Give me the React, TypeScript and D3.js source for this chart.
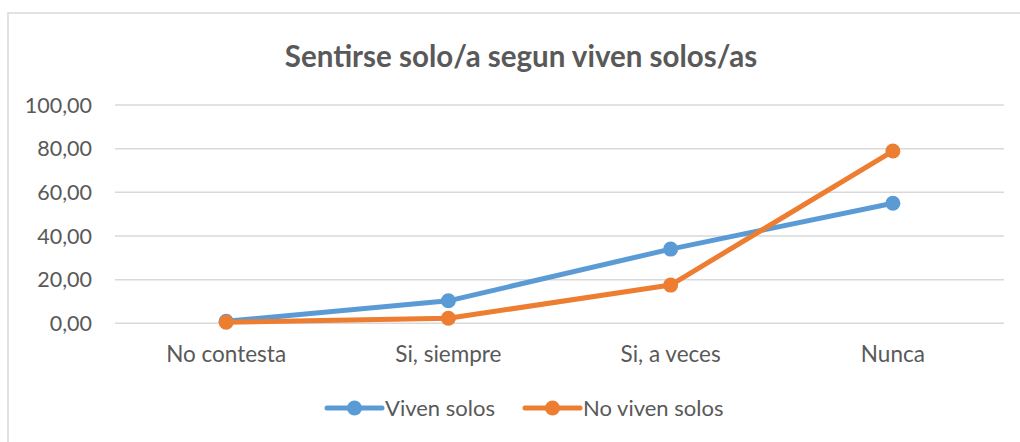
import React from "react";
import * as d3 from "d3";

const categories = ["No contesta", "Si, siempre", "Si, a veces", "Nunca"];
const vivenSolos = [0.9, 10.3, 34.0, 55.0];
const noVivenSolos = [0.5, 2.3, 17.5, 78.9];
const yTicks = [0, 20, 40, 60, 80, 100];
const seriesNames = ["Viven solos", "No viven solos"];
const colors = ["#5B9BD5", "#ED7D31"];

const W = 1020;
const H = 442;
const FONT = "Lato, 'Open Sans', sans-serif";

export default function App() {
  const x = d3.scaleBand<string>().domain(categories).range([115, 1004]);
  const y = d3.scaleLinear().domain([0, 100]).range([323.3, 105]);
  const fmt = (v: number) => v.toFixed(2).replace(".", ",");
  const line = d3
    .line<number>()
    .x((_, i) => (x(categories[i]) as number) + x.bandwidth() / 2)
    .y((d) => y(d));
  const series = [vivenSolos, noVivenSolos];

  const legendItems = [
    { name: seriesNames[0], color: colors[0], x0: 327, tx: 385 },
    { name: seriesNames[1], color: colors[1], x0: 525, tx: 583 },
  ];

  return (
    <svg
      width={W}
      height={H}
      style={{ position: "absolute", left: 0, top: 0, background: "#fff" }}
      fontFamily={FONT}
    >
      <rect x={8} y={13} width={W} height={H} fill="#fff" stroke="#d9d9d9" strokeWidth={1.5} />
      <text x={521} y={67} textAnchor="middle" fontSize={29.5} fontWeight="bold" fill="#595959">
        Sentirse solo/a segun viven solos/as
      </text>
      {yTicks.map((t) => (
        <g key={t}>
          <line x1={115} x2={1004} y1={y(t)} y2={y(t)} stroke="#d9d9d9" strokeWidth={1.5} />
          <text x={92} y={y(t)} dy="0.36em" textAnchor="end" fontSize={21.5} fill="#595959">
            {fmt(t)}
          </text>
        </g>
      ))}
      {categories.map((c) => (
        <text
          key={c}
          x={(x(c) as number) + x.bandwidth() / 2}
          y={362}
          textAnchor="middle"
          fontSize={22.5}
          fill="#595959"
        >
          {c}
        </text>
      ))}
      {series.map((s, si) => (
        <g key={si}>
          <path d={line(s) || ""} fill="none" stroke={colors[si]} strokeWidth={5} strokeLinejoin="round" strokeLinecap="round" />
          {s.map((v, i) => (
            <circle
              key={i}
              cx={(x(categories[i]) as number) + x.bandwidth() / 2}
              cy={y(v)}
              r={7.5}
              fill={colors[si]}
            />
          ))}
        </g>
      ))}
      {legendItems.map((l) => (
        <g key={l.name}>
          <line x1={l.x0} x2={l.x0 + 55} y1={408} y2={408} stroke={l.color} strokeWidth={5} strokeLinecap="round" />
          <circle cx={l.x0 + 27.5} cy={408} r={7.5} fill={l.color} />
          <text x={l.tx} y={408} dy="0.36em" fontSize={22} fill="#595959">
            {l.name}
          </text>
        </g>
      ))}
    </svg>
  );
}
